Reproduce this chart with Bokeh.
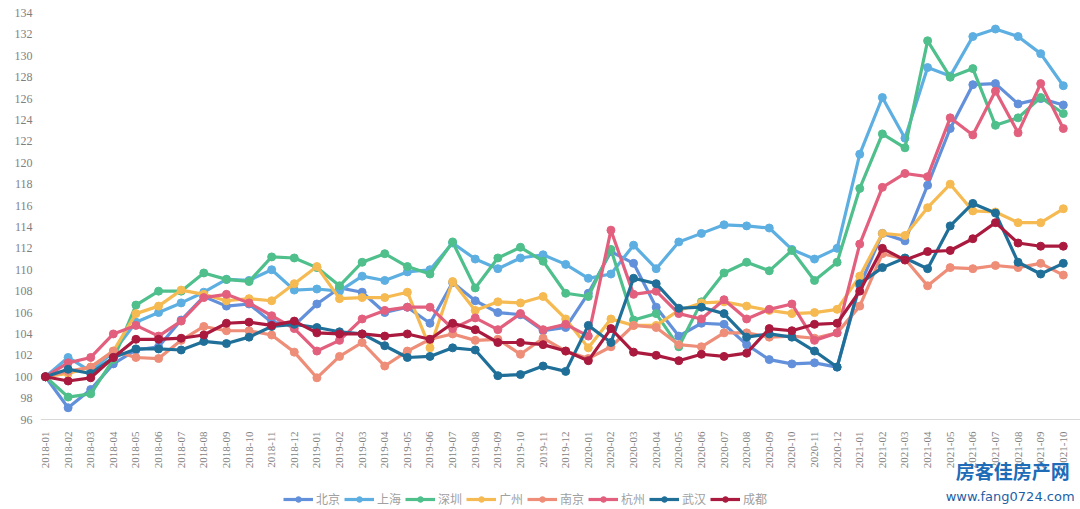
from bokeh.plotting import figure
from bokeh.models import FixedTicker, Range1d, Legend, LegendItem, Label, LinearAxis
from bokeh.embed import file_html
from bokeh.resources import INLINE
from math import pi

months = [f"{y}-{m:02d}" for y in (2018, 2019, 2020, 2021) for m in range(1, 13)][:46]

beijing = [100, 97.1, 98.8, 101.2, 102.5, 102.8, 105.3, 107.5, 106.6, 106.8, 105.1, 104.8,
           106.8, 108.3, 107.9, 106.0, 106.5, 105.0, 108.8, 107.1, 106.0, 105.8, 104.3, 104.6,
           107.8, 111.7, 110.6, 106.5, 103.8, 105.0, 104.9, 103.0, 101.6, 101.2, 101.3, 100.9,
           108.5, 113.4, 112.7, 117.9, 123.2, 127.3, 127.4, 125.5, 126.0, 125.4]
shanghai = [100, 101.8, 100.5, 102.3, 105.1, 106.0, 106.9, 107.9, 109.1, 109.0, 110.0, 108.1,
            108.2, 108.0, 109.4, 109.0, 109.8, 110.0, 112.5, 111.0, 110.1, 111.1, 111.4, 110.5,
            109.2, 109.6, 112.3, 110.1, 112.6, 113.4, 114.2, 114.1, 113.9, 111.9, 111.0, 112.0,
            120.8, 126.1, 122.3, 128.9, 128.1, 131.8, 132.5, 131.8, 130.2, 127.2]
shenzhen = [100, 98.1, 98.4, 101.6, 106.7, 108.0, 108.0, 109.7, 109.1, 108.9, 111.2, 111.1,
            110.2, 108.5, 110.7, 111.5, 110.3, 109.6, 112.6, 108.3, 111.1, 112.1, 110.8, 107.8,
            107.5, 111.9, 105.3, 105.9, 102.8, 107.0, 109.7, 110.7, 109.9, 111.8, 109.0, 110.7,
            117.6, 122.7, 121.4, 131.4, 128.0, 128.8, 123.5, 124.2, 126.1, 124.6]
guangzhou = [100, 100.3, 100.9, 102.4, 105.9, 106.6, 108.1, 107.7, 107.1, 107.3, 107.1, 108.7,
             110.3, 107.3, 107.4, 107.4, 107.9, 102.7, 108.9, 106.2, 107.0, 106.9, 107.5, 105.4,
             102.7, 105.4, 104.8, 104.8, 106.2, 106.9, 107.0, 106.6, 106.2, 105.9, 106.0, 106.3,
             109.4, 113.4, 113.2, 115.8, 118.0, 115.5, 115.4, 114.4, 114.4, 115.7]
nanjing = [100, 100.5, 100.9, 102.4, 101.8, 101.7, 103.4, 104.7, 104.3, 104.3, 103.9, 102.3,
           99.9, 101.9, 103.2, 101.0, 102.4, 103.5, 104.0, 103.4, 103.5, 102.1, 103.6, 102.4,
           101.7, 102.8, 104.8, 104.6, 103.0, 102.8, 104.1, 104.1, 103.7, 103.8, 103.6, 104.1,
           106.6, 111.5, 111.0, 108.5, 110.2, 110.1, 110.4, 110.2, 110.6, 109.5]
hangzhou = [100, 101.3, 101.8, 104.0, 104.8, 103.8, 105.2, 107.4, 107.7, 106.9, 105.7, 104.5,
            102.4, 103.4, 105.4, 106.2, 106.5, 106.5, 104.5, 105.5, 104.4, 105.9, 104.4, 104.9,
            103.8, 113.7, 107.7, 108.0, 105.9, 105.4, 107.2, 105.4, 106.3, 106.8, 103.4, 104.1,
            112.4, 117.7, 119.0, 118.7, 124.2, 122.6, 126.7, 122.8, 127.4, 123.2]
wuhan = [100, 100.7, 100.3, 101.8, 102.6, 102.6, 102.5, 103.3, 103.1, 103.7, 104.7, 104.9,
         104.6, 104.2, 104.0, 102.9, 101.8, 101.9, 102.7, 102.5, 100.1, 100.2, 101.0, 100.5,
         104.8, 103.2, 109.2, 108.7, 106.4, 106.5, 105.9, 103.7, 104.0, 103.7, 102.4, 100.9,
         108.7, 110.2, 111.1, 110.1, 114.1, 116.2, 115.3, 110.7, 109.6, 110.6]
chengdu = [100, 99.6, 99.9, 101.8, 103.5, 103.5, 103.6, 103.9, 105.0, 105.1, 104.8, 105.2,
           104.1, 104.0, 104.0, 103.8, 104.0, 103.5, 105.0, 104.4, 103.2, 103.2, 103.0, 102.4,
           101.5, 104.5, 102.3, 102.0, 101.5, 102.1, 101.9, 102.2, 104.5, 104.3, 104.9, 105.0,
           108.0, 112.0, 110.9, 111.7, 111.8, 112.9, 114.4, 112.5, 112.2, 112.2]

names = ["北京", "上海", "深圳", "广州", "南京", "杭州", "武汉", "成都"]
series = [beijing, shanghai, shenzhen, guangzhou, nanjing, hangzhou, wuhan, chengdu]
colors = ["#6390DA", "#5DAFE2", "#4FBF8C", "#F6BA52", "#EE8D78", "#E2607E", "#1F6F98", "#AA1A3E"]
yticks = list(range(96, 135, 2))

xs = list(range(len(months)))

p = figure(width=1080, height=509, output_backend="svg", toolbar_location=None,
           x_range=Range1d(-0.22, 45.76), y_range=Range1d(87.59, 134.7),
           x_axis_location=None,
           min_border_left=40, min_border_right=0, min_border_top=5, min_border_bottom=0)
p.outline_line_color = None
p.xgrid.visible = False
p.ygrid.visible = False
p.background_fill_color = "white"

items = []
for name, vals, c in zip(names, series, colors):
    r1 = p.line(xs, vals, line_color=c, line_width=3.2, line_join="round")
    r2 = p.scatter(xs, vals, size=8, fill_color=c, line_color=c)
    items.append(LegendItem(label=name, renderers=[r1, r2]))

xaxis = LinearAxis(fixed_location=96)
xaxis.ticker = FixedTicker(ticks=xs)
xaxis.major_label_overrides = {i: m for i, m in enumerate(months)}
xaxis.major_label_orientation = pi / 2
xaxis.major_tick_line_color = None
xaxis.minor_tick_line_color = None
xaxis.axis_line_color = "#D9D9D9"
xaxis.major_label_text_font = "Liberation Serif"
xaxis.major_label_text_font_size = "11px"
xaxis.major_label_text_color = "#7F7F7F"
xaxis.major_label_standoff = 6
p.add_layout(xaxis, "below")

p.yaxis.ticker = FixedTicker(ticks=yticks)
p.yaxis.axis_line_color = None
p.yaxis.major_tick_line_color = None
p.yaxis.minor_tick_line_color = None
p.yaxis.major_label_text_font = "Liberation Serif"
p.yaxis.major_label_text_font_size = "12px"
p.yaxis.major_label_text_color = "#7F7F7F"
p.yaxis.major_label_standoff = 2

legend = Legend(items=items, orientation="horizontal", location=(243, 2),
                label_text_font="Noto Sans CJK SC", label_text_font_size="12px",
                label_text_color="#A0A0A0", glyph_width=30, glyph_height=14,
                spacing=4, padding=2, margin=0, label_standoff=3,
                border_line_color=None, background_fill_alpha=0)
p.add_layout(legend, "center")

p.add_layout(Label(x=40.25, y=90.0, text="房客佳房产网", text_font="Noto Sans CJK SC",
                   text_font_style="bold", text_font_size="19px", text_color="#1E6CB8"))
p.add_layout(Label(x=39.8, y=88.1, text="www.fang0724.com", text_font="DejaVu Sans",
                   text_font_size="13px", text_color="#1E5FA6"))

open("out.html", "w").write(file_html(p, INLINE))
